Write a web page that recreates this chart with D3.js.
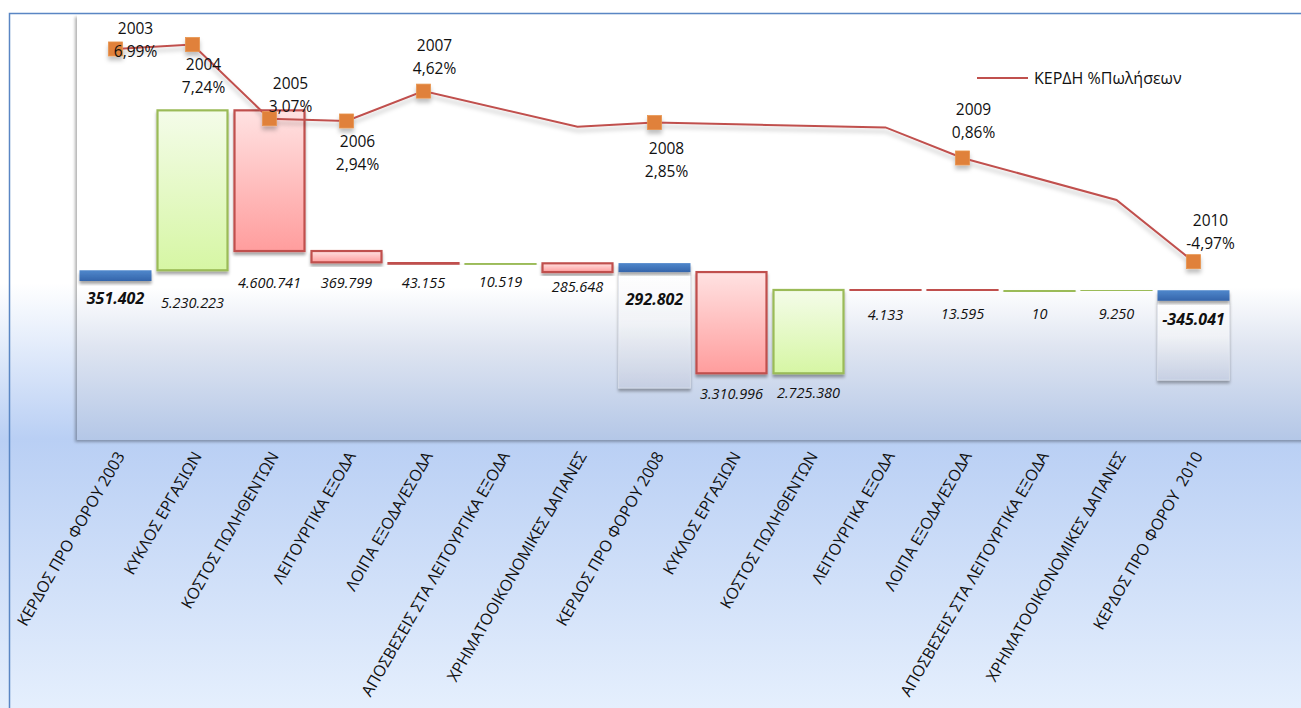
<!DOCTYPE html>
<html>
<head>
<meta charset="utf-8">
<script src="https://cdn.jsdelivr.net/npm/d3@7"></script>
<style>
  html, body { margin: 0; padding: 0; background: #fff; overflow: hidden; }
  svg { display: block; }
  text { font-family: "Open Sans", "Noto Sans", sans-serif; fill: #111; white-space: pre; }
</style>
</head>
<body>
<svg id="chart" width="1301" height="708"></svg>
<script>
// Waterfall: pre-tax profit 2003 -> 2008 -> 2010, plus profit margin line
const categories = [
  "ΚΕΡΔΟΣ ΠΡΟ ΦΟΡΟΥ 2003", "ΚΥΚΛΟΣ ΕΡΓΑΣΙΩΝ", "ΚΟΣΤΟΣ ΠΩΛΗΘΕΝΤΩΝ", "ΛΕΙΤΟΥΡΓΙΚΑ ΕΞΟΔΑ",
  "ΛΟΙΠΑ ΕΞΟΔΑ/ΕΣΟΔΑ", "ΑΠΟΣΒΕΣΕΙΣ ΣΤΑ ΛΕΙΤΟΥΡΓΙΚΑ ΕΞΟΔΑ", "ΧΡΗΜΑΤΟΟΙΚΟΝΟΜΙΚΕΣ ΔΑΠΑΝΕΣ",
  "ΚΕΡΔΟΣ ΠΡΟ ΦΟΡΟΥ 2008", "ΚΥΚΛΟΣ ΕΡΓΑΣΙΩΝ", "ΚΟΣΤΟΣ ΠΩΛΗΘΕΝΤΩΝ", "ΛΕΙΤΟΥΡΓΙΚΑ ΕΞΟΔΑ",
  "ΛΟΙΠΑ ΕΞΟΔΑ/ΕΣΟΔΑ", "ΑΠΟΣΒΕΣΕΙΣ ΣΤΑ ΛΕΙΤΟΥΡΓΙΚΑ ΕΞΟΔΑ", "ΧΡΗΜΑΤΟΟΙΚΟΝΟΜΙΚΕΣ ΔΑΠΑΝΕΣ",
  "ΚΕΡΔΟΣ ΠΡΟ ΦΟΡΟΥ  2010"
];
const amounts = [351402, 5230223, 4600741, 369799, 43155, 10519, 285648, 292802,
                 3310996, 2725380, 4133, 13595, 10, 9250, -345041];
const kinds = ["total", "up", "down", "down", "down", "up", "down", "total",
               "down", "up", "down", "down", "up", "up", "total"];
// lower end of the pale column drawn under a total (null = none)
const pillarFloor = [null, null, null, null, null, null, null, -3500000,
                     null, null, null, null, null, null, -3240000];

// profit as % of sales (secondary axis); null = no point in that column
const marginPct = [6.99, 7.24, 3.07, 2.94, 4.62, null, 2.62, 2.85,
                   null, null, 2.58, 0.86, null, -1.50, -4.97];
const marginYear = ["2003", "2004", "2005", "2006", "2007", null, null, "2008",
                    null, null, null, "2009", null, null, "2010"];
const legendLabel = "ΚΕΡΔΗ %Πωλήσεων";

// label placement
const valueLabelGap = [17, 33, 32, 21, 19, 18, 15, 27, 21, 20, 25, 23.5, 23.5, 23.5, 19];
const yearLabelOffset = {
  "2003": [20, -20], "2004": [11, 20], "2005": [21, -35], "2006": [11, 21],
  "2007": [11, -46], "2008": [12, 26], "2009": [11, -48], "2010": [17, -41]
};

const W = 1301, H = 708;
const plot = { left: 77, right: 1301, top: 15, bottom: 440 };

const svg = d3.select("#chart");
const defs = svg.append("defs");

function vGrad(id, stops, attrs) {
  const g = defs.append("linearGradient").attr("id", id)
    .attr("x1", 0).attr("y1", 0).attr("x2", 0).attr("y2", 1);
  if (attrs) Object.entries(attrs).forEach(([k, v]) => g.attr(k, v));
  stops.forEach(([o, c, op]) => g.append("stop").attr("offset", o)
    .attr("stop-color", c).attr("stop-opacity", op == null ? 1 : op));
}
vGrad("bgGrad", [[0, "#ffffff"], [0.40, "#ffffff"], [0.62, "#b9cff4"], [1, "#e5effd"]],
      { gradientUnits: "userSpaceOnUse", y1: 0, y2: H });
vGrad("plotGrad", [[0, "#ffffff"], [0.64, "#ffffff"], [0.78, "#dfe5f1"], [1, "#b4c7e7"]],
      { gradientUnits: "userSpaceOnUse", y1: plot.top, y2: plot.bottom });
vGrad("upGrad", [[0, "#f4fce9"], [1, "#d6f6a4"]]);
vGrad("downGrad", [[0, "#ffe2e2"], [1, "#ff9d9d"]]);
vGrad("totalGrad", [[0, "#5088cc"], [1, "#3565ab"]]);
vGrad("pillarGrad", [[0, "#ffffff"], [0.45, "#f4f6fa", 0.9], [1, "#c9d2e6", 0.9]]);

function shadow(id, dx, dy, sd, op) {
  const f = defs.append("filter").attr("id", id)
    .attr("x", "-20%").attr("y", "-20%").attr("width", "140%").attr("height", "160%");
  f.append("feDropShadow").attr("dx", dx).attr("dy", dy).attr("stdDeviation", sd)
    .attr("flood-color", "#000").attr("flood-opacity", op);
}
shadow("barShadow", 0, 3, 1.6, 0.35);
shadow("lineShadow", 0, 4, 2, 0.25);
shadow("plotShadow", -2, 2, 1.8, 0.3);

// chart area
svg.append("rect").attr("width", W).attr("height", H).attr("fill", "url(#bgGrad)");
svg.append("rect").attr("x", 9.5).attr("y", 13.5).attr("width", W + 20).attr("height", H + 20)
  .attr("fill", "none").attr("stroke", "#5a86c4").attr("stroke-width", 1.5);

// plot area
svg.append("rect").attr("x", plot.left).attr("y", plot.top)
  .attr("width", plot.right - plot.left + 10).attr("height", plot.bottom - plot.top)
  .attr("fill", "url(#plotGrad)").attr("filter", "url(#plotShadow)");

// scales
const x = d3.scaleBand().domain(d3.range(categories.length))
  .range([77, 1232]).paddingInner(0.065).paddingOuter(0.0325);
const y = d3.scaleLinear().domain([-5.2e6, 8.7e6]).range([plot.bottom, plot.top]);
const y2 = d3.scaleLinear().domain([-15, 8.9]).range([plot.bottom, plot.top]);

// running levels of the waterfall
let level = 0;
const bars = amounts.map((v, i) => {
  let a, b;
  if (kinds[i] === "total") { a = level; b = level + v; level = v; }
  else if (kinds[i] === "up") { a = level; b = level + v; level = b; }
  else { a = level; b = level - v; level = b; }
  return { i, kind: kinds[i], value: v, lo: Math.min(a, b), hi: Math.max(a, b) };
});

const grLocale = d3.formatLocale({ decimal: ",", thousands: ".", grouping: [3], currency: ["", "€"], minus: "-" });
const fmtInt = grLocale.format(",d");
const fmtPct = grLocale.format(".2f");

// pale columns under totals
svg.append("g").selectAll("rect")
  .data(bars.filter(d => pillarFloor[d.i] != null))
  .join("rect")
  .attr("x", d => x(d.i)).attr("width", x.bandwidth())
  .attr("y", d => y(d.lo)).attr("height", d => y(pillarFloor[d.i]) - y(d.lo))
  .attr("fill", "url(#pillarGrad)").attr("stroke", "#dde2ec").attr("stroke-width", 0.6)
  .attr("filter", "url(#barShadow)");

// columns
const colour = {
  up: { fill: "url(#upGrad)", stroke: "#9bbb59" },
  down: { fill: "url(#downGrad)", stroke: "#c0504d" },
  total: { fill: "url(#totalGrad)", stroke: "none" }
};
svg.append("g").selectAll("rect").data(bars).join("rect")
  .attr("x", d => d.kind === "total" ? x(d.i) : x(d.i) + 1)
  .attr("width", d => d.kind === "total" ? x.bandwidth() : x.bandwidth() - 2)
  .attr("y", d => y(d.hi))
  .attr("height", d => Math.max(0.5, y(d.lo) - y(d.hi)))
  .attr("fill", d => colour[d.kind].fill)
  .attr("stroke", d => colour[d.kind].stroke)
  .attr("stroke-width", 2.2)
  .attr("filter", "url(#barShadow)");

// column value labels
svg.append("g").selectAll("text").data(bars).join("text")
  .attr("x", d => x(d.i) + x.bandwidth() / 2)
  .attr("y", d => y(d.lo) + valueLabelGap[d.i])
  .attr("dy", "0.35em")
  .attr("text-anchor", "middle")
  .style("font-style", "italic")
  .style("font-weight", d => d.kind === "total" ? 700 : 400)
  .style("font-size", d => d.kind === "total" ? "16px" : "14.5px")
  .text(d => fmtInt(d.value));

// margin line
const pts = marginPct.map((v, i) => ({ i, v, year: marginYear[i] })).filter(d => d.v != null);
const cx = i => x(i) + x.bandwidth() / 2;
const lineG = svg.append("g").attr("filter", "url(#lineShadow)");
lineG.append("path").datum(pts)
  .attr("d", d3.line().x(d => cx(d.i)).y(d => y2(d.v)))
  .attr("fill", "none").attr("stroke", "#c0504d").attr("stroke-width", 2);
lineG.selectAll("rect").data(pts.filter(d => d.year)).join("rect")
  .attr("x", d => cx(d.i) - 7).attr("y", d => y2(d.v) - 7)
  .attr("width", 14).attr("height", 14)
  .attr("fill", "#e0813a").attr("stroke", "#e8954f").attr("stroke-width", 0.8);

// year / margin labels
const yl = svg.append("g").selectAll("text").data(pts.filter(d => d.year)).join("text")
  .attr("text-anchor", "middle").style("font-size", "15.5px");
yl.append("tspan")
  .attr("x", d => cx(d.i) + yearLabelOffset[d.year][0])
  .attr("y", d => y2(d.v) + yearLabelOffset[d.year][1])
  .attr("dy", "0.35em").text(d => d.year);
yl.append("tspan")
  .attr("x", d => cx(d.i) + yearLabelOffset[d.year][0])
  .attr("y", d => y2(d.v) + yearLabelOffset[d.year][1] + 23)
  .attr("dy", "0.35em").text(d => fmtPct(d.v) + "%");

// category axis
const xAxis = svg.append("g").attr("transform", `translate(0,${plot.bottom})`)
  .call(d3.axisBottom(x).tickSize(0).tickFormat(i => categories[i]));
xAxis.select(".domain").remove();
xAxis.selectAll("text")
  .attr("text-anchor", "end")
  .attr("transform", "translate(5,13) rotate(-60)")
  .attr("x", 0).attr("y", 0).attr("dy", "0.35em")
  .style("font-size", "16px").style("font-family", "'Open Sans', 'Noto Sans', sans-serif")
  .style("white-space", "pre")
  .attr("fill", "#111");

// legend
const lg = svg.append("g").attr("transform", "translate(977,78)");
lg.append("line").attr("x1", 0).attr("x2", 51).attr("y1", 0).attr("y2", 0)
  .attr("stroke", "#c0504d").attr("stroke-width", 2);
lg.append("text").attr("x", 57).attr("y", 0).attr("dy", "0.35em")
  .style("font-size", "16px").text(legendLabel);
</script>
</body>
</html>
